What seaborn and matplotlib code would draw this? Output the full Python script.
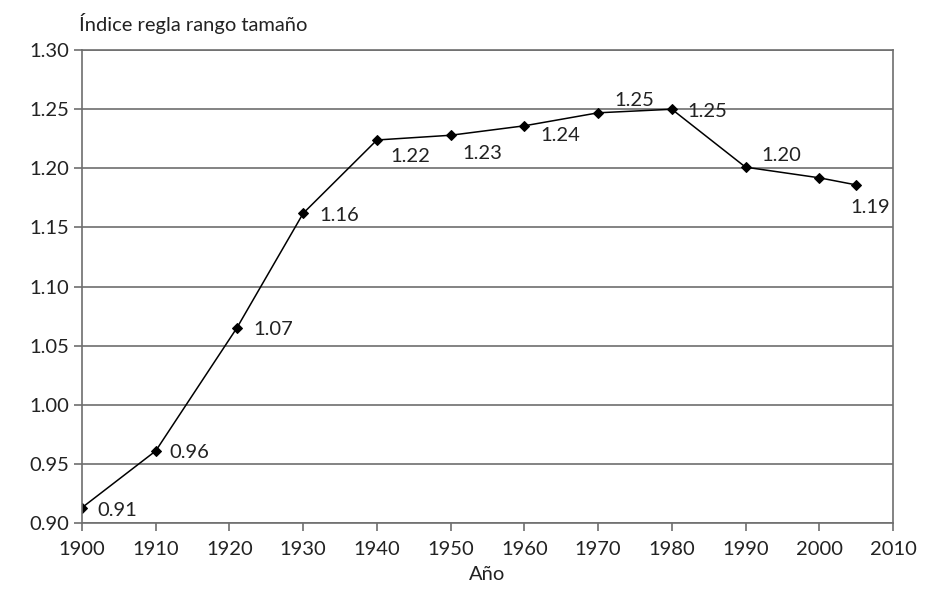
import matplotlib
matplotlib.use("Agg")
import matplotlib.pyplot as plt
import seaborn as sns
import pandas as pd

# Values
years = [1900, 1910, 1921, 1930, 1940, 1950, 1960, 1970, 1980, 1990, 2000, 2005]
index_values = [0.913, 0.961, 1.065, 1.162, 1.224, 1.228, 1.236, 1.247, 1.250, 1.201, 1.192, 1.186]
point_labels = ["0.91", "0.96", "1.07", "1.16", "1.22", "1.23", "1.24", "1.25", "1.25", "1.20", "", "1.19"]

x_ticks = list(range(1900, 2011, 10))
y_ticks = [0.90, 0.95, 1.00, 1.05, 1.10, 1.15, 1.20, 1.25, 1.30]

# label offsets in pixels (dx, dy), y up
label_offsets = [(15, -3), (14, -2), (16, -2), (16, -2), (13, -17), (12, -18),
                 (16, -10), (16, 12), (16, -2), (16, 12), (0, 0), (14, -23)]

df = pd.DataFrame({"Año": years, "indice": index_values})

sns.set_theme(style="white")
plt.rcParams["font.family"] = ["Lato", "DejaVu Sans"]

fig, ax = plt.subplots(figsize=(9.43, 5.97), dpi=100)
fig.subplots_adjust(left=0.087, right=0.947, top=0.916, bottom=0.124)

sns.lineplot(data=df, x="Año", y="indice", ax=ax, color="black", linewidth=1.1,
             marker="D", markersize=5, markeredgecolor="black")

for x, y, lab, (dx, dy) in zip(years, index_values, point_labels, label_offsets):
    if not lab:
        continue
    ha = "left"
    if lab == "1.19":
        ha = "center"
    ax.annotate(lab, (x, y), xytext=(dx, dy), textcoords="offset pixels",
                ha=ha, va="center", fontsize=14.5, color="#222222")

ax.set_xlim(1900, 2010)
ax.set_ylim(0.90, 1.30)
ax.set_xticks(x_ticks)
ax.set_yticks(y_ticks)
ax.set_yticklabels([f"{v:.2f}" for v in y_ticks])
ax.yaxis.grid(True, color="#6e6e6e", linewidth=1.2)
ax.set_axisbelow(True)
for side in ["left", "right", "bottom", "top"]:
    ax.spines[side].set_visible(True)
    ax.spines[side].set_color("#6e6e6e")
    ax.spines[side].set_linewidth(1.2)
ax.tick_params(axis="both", which="major", length=6, width=1.2, color="#6e6e6e",
               labelsize=14.5, labelcolor="#222222", direction="out", bottom=True, left=True)
ax.tick_params(axis="x", pad=7)
ax.tick_params(axis="y", pad=3)
ax.set_ylabel("")
ax.set_xlabel("Año", fontsize=14.5, color="#222222", labelpad=6)
ax.text(-0.004, 1.035, "Índice regla rango tamaño", transform=ax.transAxes,
        fontsize=14.5, color="#222222", ha="left", va="bottom")

plt.savefig("out.png", dpi=100)
plt.close()
